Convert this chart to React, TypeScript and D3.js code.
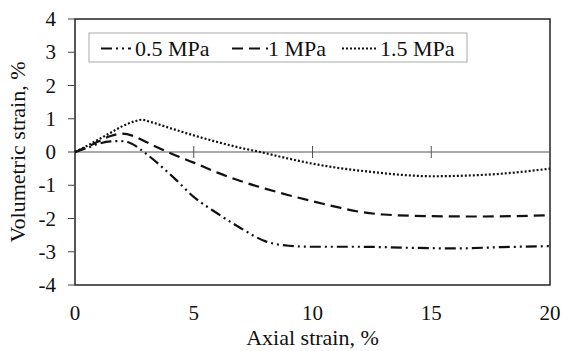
import * as d3 from 'd3';

// axial strain (%) vs volumetric strain (%)
const x05 = [0, 0.5, 1, 1.5, 1.9, 2.3, 2.9, 3.5, 4.2, 5, 6, 7, 8, 9, 10, 12, 14, 16, 18, 20];
const y05 = [0, 0.12, 0.25, 0.32, 0.33, 0.28, 0.0, -0.35, -0.8, -1.35, -1.85, -2.3, -2.68, -2.82, -2.85, -2.85, -2.88, -2.9, -2.86, -2.83];

const x10 = [0, 0.5, 1, 1.5, 2, 2.5, 3, 3.9, 5, 6, 7, 8, 9, 10, 11, 12, 13, 15, 17, 20];
const y10 = [0, 0.15, 0.32, 0.48, 0.55, 0.47, 0.3, 0, -0.32, -0.62, -0.88, -1.1, -1.3, -1.48, -1.65, -1.8, -1.88, -1.93, -1.94, -1.9];

const x15 = [0, 0.5, 1, 1.5, 2, 2.5, 2.8, 3.2, 4, 5, 6, 7, 7.8, 9, 10, 11, 12.5, 14, 15, 16, 18, 20];
const y15 = [0, 0.18, 0.38, 0.58, 0.78, 0.92, 0.97, 0.9, 0.72, 0.5, 0.3, 0.12, 0, -0.2, -0.35, -0.47, -0.6, -0.7, -0.73, -0.72, -0.65, -0.5];

const seriesNames = ['0.5 MPa', '1 MPa', '1.5 MPa'];
const xTicks = [0, 5, 10, 15, 20];
const yTicks = [4, 3, 2, 1, 0, -1, -2, -3, -4];

const W = 563;
const H = 351;
const margin = { top: 19, right: 13, bottom: 66, left: 75 };
const font = "'Liberation Serif', 'DejaVu Serif', 'Times New Roman', serif";

export default function App() {
  const x = d3.scaleLinear().domain([0, 20]).range([margin.left, W - margin.right]);
  const y = d3.scaleLinear().domain([-4, 4]).range([H - margin.bottom, margin.top]);

  const line = d3.line<[number, number]>()
    .x(d => x(d[0]))
    .y(d => y(d[1]))
    .curve(d3.curveMonotoneX);

  const series = [
    { name: seriesNames[0], pts: x05.map((v, i) => [v, y05[i]] as [number, number]), dash: '11,4,2,4,2,4' },
    { name: seriesNames[1], pts: x10.map((v, i) => [v, y10[i]] as [number, number]), dash: '11,6' },
    { name: seriesNames[2], pts: x15.map((v, i) => [v, y15[i]] as [number, number]), dash: '2,2' },
  ];

  const x0 = x(0), x1 = x(20), yTop = y(4), yBot = y(-4), yZero = y(0);

  // legend layout
  const lg = { x: 89, y: 33, w: 378, h: 29 };
  const legendItems = [
    { lx: 101, len: 30, tx: 135 },
    { lx: 232, len: 36, tx: 268 },
    { lx: 342, len: 35, tx: 380 },
  ];

  return (
    <svg width={W} height={H} style={{ position: 'absolute', left: 0, top: 0, background: '#fff', fontFamily: font }}>
      {/* plot box */}
      <rect x={x0} y={yTop} width={x1 - x0} height={yBot - yTop} fill="none" stroke="#222" strokeWidth={1.5} />
      {/* zero line with crossing ticks */}
      <line x1={x0} x2={x1} y1={yZero} y2={yZero} stroke="#555" strokeWidth={1} />
      {xTicks.slice(1, -1).map(t => (
        <line key={t} x1={x(t)} x2={x(t)} y1={yZero - 6} y2={yZero + 6} stroke="#555" strokeWidth={1} />
      ))}
      {/* y ticks */}
      {yTicks.map(t => (
        <g key={t}>
          <line x1={x0 - 7} x2={x0} y1={y(t)} y2={y(t)} stroke="#444" strokeWidth={1} />
          <text x={x0 - 19} y={y(t)} dy="0.34em" textAnchor="end" fontSize={21} fill="#111">{t}</text>
        </g>
      ))}
      {/* x tick labels */}
      {xTicks.map(t => (
        <text key={t} x={x(t)} y={320} textAnchor="middle" fontSize={21} fill="#111">{t}</text>
      ))}
      <text x={(x0 + x1) / 2} y={345} textAnchor="middle" fontSize={22} fill="#111">Axial strain, %</text>
      <text transform={`translate(25,${(yTop + yBot) / 2}) rotate(-90)`} textAnchor="middle" fontSize={22} fill="#111">
        Volumetric strain, %
      </text>

      {/* curves */}
      {series.map(s => (
        <path key={s.name} d={line(s.pts) || ''} fill="none" stroke="#111" strokeWidth={2.2}
          strokeDasharray={s.dash} />
      ))}

      {/* legend */}
      <rect x={lg.x} y={lg.y} width={lg.w} height={lg.h} fill="#fff" stroke="#aaa" strokeWidth={1} />
      {series.map((s, i) => {
        const it = legendItems[i];
        const ly = lg.y + lg.h / 2 + 1;
        return (
          <g key={s.name}>
            <line x1={it.lx} x2={it.lx + it.len} y1={ly} y2={ly} stroke="#111" strokeWidth={2.2}
              strokeDasharray={s.dash} />
            <text x={it.tx} y={lg.y + 23} fontSize={22} fill="#111">{s.name}</text>
          </g>
        );
      })}
    </svg>
  );
}
